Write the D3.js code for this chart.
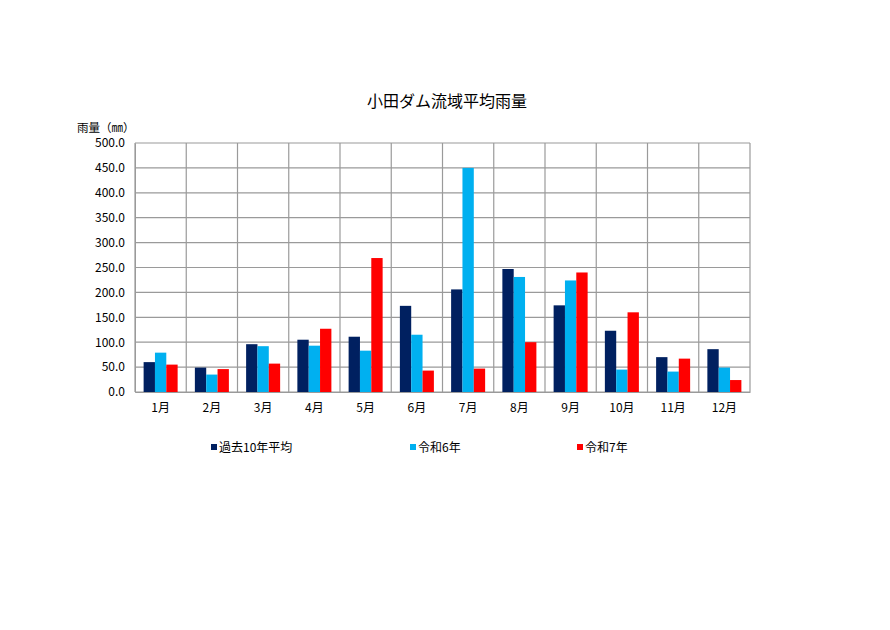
<!DOCTYPE html>
<html>
<head>
<meta charset="utf-8">
<script src="https://cdn.jsdelivr.net/npm/d3@7"></script>
<style>
  body { margin: 0; background: #fff; }
  svg { display: block; font-family: "Noto Sans CJK JP", sans-serif; }
</style>
</head>
<body>
<svg id="chart" width="890" height="630"></svg>
<script>
const months = ['1月', '2月', '3月', '4月', '5月', '6月', '7月', '8月', '9月', '10月', '11月', '12月'];
const seriesNames = ['過去10年平均', '令和6年', '令和7年'];
const avg10 = [60, 49, 96, 105, 111, 173, 206, 247, 174, 123, 70, 86];
const r6 = [79, 35, 92, 93, 83, 115, 450, 231, 224, 45, 41, 49];
const r7 = [55, 46, 57, 127, 269, 43, 47, 100, 240, 160, 67, 24];
const yTicks = [0, 50, 100, 150, 200, 250, 300, 350, 400, 450, 500];
const colors = ['#002060', '#00B0F0', '#FF0000'];

const svg = d3.select('#chart');
const plotL = 135, plotR = 750, plotT = 143, plotB = 392;

const x = d3.scaleBand().domain(months).range([plotL, plotR]).paddingInner(0).paddingOuter(0);
const xs = d3.scaleBand().domain(seriesNames).range([0, x.bandwidth()]).paddingInner(0).paddingOuter(0.76);
const y = d3.scaleLinear().domain([0, 500]).range([plotB, plotT]);

// grid
svg.append('g').selectAll('line').data(yTicks).join('line')
    .attr('x1', plotL).attr('x2', plotR)
    .attr('y1', d => y(d)).attr('y2', d => y(d))
    .attr('stroke', '#9a9a9a').attr('stroke-width', 1.2);

svg.append('g').selectAll('line').data(months).join('line')
    .attr('x1', d => x(d)).attr('x2', d => x(d))
    .attr('y1', plotT).attr('y2', plotB)
    .attr('stroke', '#9a9a9a').attr('stroke-width', 1.2);

svg.append('line')
    .attr('x1', plotR).attr('x2', plotR).attr('y1', plotT).attr('y2', plotB)
    .attr('stroke', '#9a9a9a').attr('stroke-width', 1.2);

// bars
const allSeries = [avg10, r6, r7];
const rows = months.map((m, i) => ({ month: m, values: allSeries.map((s, k) => ({ name: seriesNames[k], v: s[i], c: colors[k] })) }));

svg.append('g').selectAll('g').data(rows).join('g')
    .attr('transform', d => `translate(${x(d.month)},0)`)
    .selectAll('rect').data(d => d.values).join('rect')
    .attr('x', d => xs(d.name))
    .attr('width', xs.bandwidth())
    .attr('y', d => y(d.v))
    .attr('height', d => y(0) - y(d.v))
    .attr('fill', d => d.c);

// axes
const yAxis = svg.append('g')
    .attr('transform', `translate(${plotL},0)`)
    .call(d3.axisLeft(y).tickValues(yTicks).tickSize(0).tickPadding(10).tickFormat(d3.format('.1f')));
yAxis.select('.domain').attr('stroke', '#9a9a9a');
yAxis.selectAll('text').attr('font-size', 12).attr('fill', '#000')
    .attr('font-family', '"Noto Sans CJK JP", sans-serif');

const xAxis = svg.append('g')
    .attr('transform', `translate(0,${plotB})`)
    .call(d3.axisBottom(x).tickSize(0).tickPadding(11));
xAxis.select('.domain').attr('stroke', '#9a9a9a').attr('stroke-width', 1.2);
xAxis.selectAll('text').attr('font-size', 12).attr('fill', '#000')
    .attr('font-family', '"Noto Sans CJK JP", sans-serif');

// titles
svg.append('text')
    .attr('x', 447).attr('y', 107)
    .attr('text-anchor', 'middle')
    .attr('font-size', 16)
    .text('小田ダム流域平均雨量');

svg.append('text')
    .attr('x', 77).attr('y', 132)
    .attr('font-size', 11.5)
    .text('雨量（㎜）');

// legend
const legendX = [211, 410, 577];
const legend = svg.append('g').selectAll('g').data(seriesNames).join('g')
    .attr('transform', (d, i) => `translate(${legendX[i]},447)`);
legend.append('rect').attr('x', 0).attr('y', -3).attr('width', 6).attr('height', 6)
    .attr('fill', (d, i) => colors[i]);
legend.append('text').attr('x', 8).attr('y', 4.5).attr('font-size', 12).text(d => d);
</script>
</body>
</html>
